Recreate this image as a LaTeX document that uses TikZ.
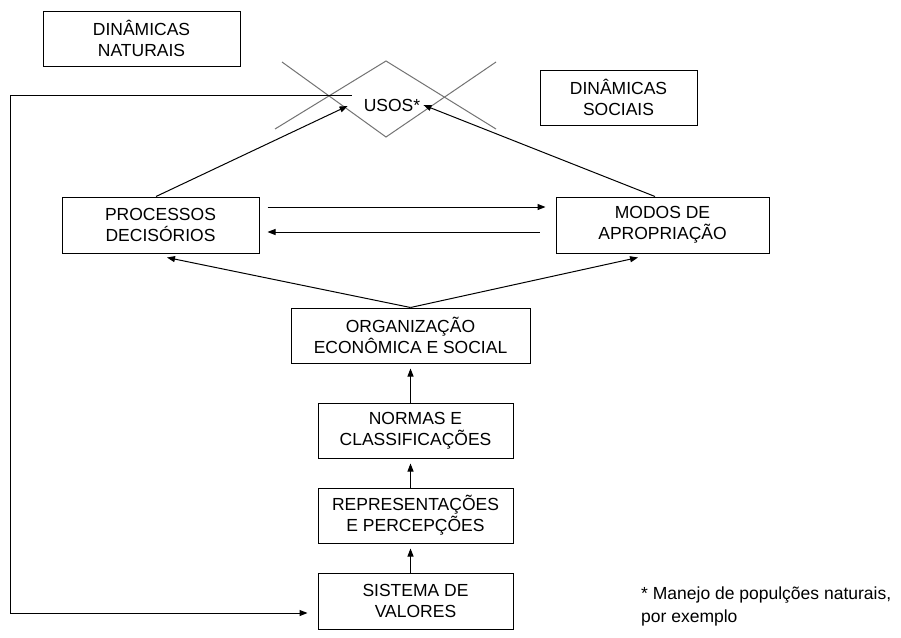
\documentclass[tikz,border=0pt]{standalone}
\usepackage{fontspec}
\setmainfont{Liberation Sans}
\usetikzlibrary{arrows.meta,calc}
\begin{document}
\begin{tikzpicture}[x=1pt,y=-1pt,
  box/.style={draw=black,line width=1pt,minimum height=55pt,align=center,inner sep=0pt,font=\fontsize{17.5}{21}\selectfont},
  arr/.style={-{Triangle[length=8pt,width=6pt]},line width=1pt},
  xline/.style={draw=black!55,line width=1pt},
  lbl/.style={font=\fontsize{17.5}{21}\selectfont,inner sep=0pt}]
\useasboundingbox (0,0) rectangle (901,637);
\fill[white] (0,0) rectangle (901,637);
% boxes
\node[box,minimum width=197pt] (nat) at (141.5,38.5) {DINÂMICAS\\NATURAIS};
\node[box,minimum width=157pt] (soc) at (618.5,97.5) {DINÂMICAS\\SOCIAIS};
\node[box,minimum width=197pt,minimum height=56pt] (proc) at (160.5,225) {PROCESSOS\\DECISÓRIOS};
\node[box,minimum width=213pt,minimum height=56pt] (modos) at (662.5,225) {MODOS DE\\APROPRIAÇÃO};
\node[box,minimum width=239pt] (org) at (410.5,335.5) {ORGANIZAÇÃO\\ECONÔMICA E SOCIAL};
\node[box,minimum width=195pt] (norm) at (415.5,430.5) {NORMAS E\\CLASSIFICAÇÕES};
\node[box,minimum width=195pt] (repr) at (415.5,515.5) {REPRESENTAÇÕES\\E PERCEPÇÕES};
\node[box,minimum width=195pt,minimum height=56pt] (sist) at (415.5,601) {SISTEMA DE\\VALORES};
\node[lbl] (usos) at (392,105) {USOS*};
\node[lbl,align=left,anchor=west,font=\fontsize{17.5}{23}\selectfont] (note) at (641,606) {* Manejo de populções naturais,\\por exemplo};
% crossed diamond
\draw[xline] (282,62) -- (386,137) -- (496,62);
\draw[xline] (275,129) -- (386,61) -- (496,129);
% arrows
\draw[arr] ($(proc.north)+(-4.5,0)$) -- ($(usos.west)+(-16,1)$);
\draw[arr] ($(modos.north)+(-7.5,0)$) -- ($(usos.east)+(3,0)$);
\draw[arr] ($(proc.east)+(8,-18)$) -- ($(modos.west)+(-10,-18)$);
\draw[arr] ($(modos.west)+(-16,7)$) -- ($(proc.east)+(8,7)$);
\draw[arr] (org.north) -- ($(proc.south)+(6.5,4)$);
\draw[arr] (org.north) -- ($(modos.south)+(-24.5,4)$);
\draw[arr,shorten >=5pt] (norm.north -| org) -- (org.south);
\draw[arr,shorten >=5pt] (repr.north -| org) -- (norm.south -| org);
\draw[arr,shorten >=5pt] (sist.north -| org) -- (repr.south -| org);
% feedback loop
\coordinate (fb) at (10,95);
\draw[arr,shorten >=10pt] ($(usos.west)+(-12,-10)$) -- (fb) |- ($(sist.west)+(0,12)$);
\end{tikzpicture}
\end{document}
